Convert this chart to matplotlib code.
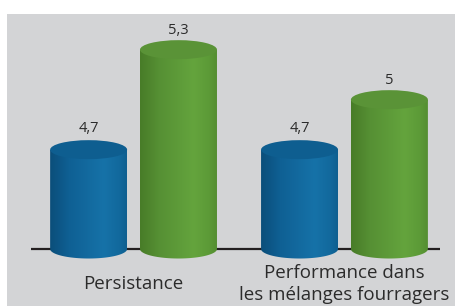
import numpy as np
import matplotlib.pyplot as plt
from matplotlib.patches import Ellipse, PathPatch
from matplotlib.path import Path
from matplotlib.colors import LinearSegmentedColormap

plt.rcParams['font.family'] = ['Open Sans', 'DejaVu Sans']

# données
categories = ['Persistance', 'Performance dans\nles mélanges fourragers']
serie_bleue = [4.7, 4.7]
serie_verte = [5.3, 5.0]
etiq_bleue = ['4,7', '4,7']
etiq_verte = ['5,3', '5']

base = 4.104   # valeur de la ligne de base
eh = 0.057     # demi-hauteur des ellipses (unités de données)
w = 0.365      # largeur d'un cylindre
dx = 0.213     # décalage dans le groupe

bleu = LinearSegmentedColormap.from_list('bleu', [
    (0.0, '#0b4e7a'), (0.25, '#0f6094'), (0.7, '#1672a8'), (0.9, '#12699d'), (1.0, '#0f5f90')])
vert = LinearSegmentedColormap.from_list('vert', [
    (0.0, '#487c28'), (0.25, '#569034'), (0.7, '#64a43d'), (0.9, '#5c9a37'), (1.0, '#548e31')])


def cylindre(ax, xc, val, cmap, couleur_haut):
    x0, x1 = xc - w / 2, xc + w / 2
    t = np.linspace(0, np.pi, 80)
    arc = np.column_stack([xc + w / 2 * np.cos(t), base - eh * np.sin(t)])
    verts = np.vstack([[x0, val], [x1, val], arc, [x0, val]])
    grad = np.linspace(0, 1, 256).reshape(1, -1)
    im = ax.imshow(grad, cmap=cmap, extent=(x0, x1, base - eh, val),
                   aspect='auto', zorder=3, interpolation='bilinear')
    clip = PathPatch(Path(verts), facecolor='none', edgecolor='none')
    ax.add_patch(clip)
    im.set_clip_path(clip)
    ax.add_patch(Ellipse((xc, val), w, 2 * eh, facecolor=couleur_haut,
                         edgecolor='none', zorder=4))


fig = plt.figure(figsize=(4.55, 3.06), dpi=100)
ax = fig.add_axes([7 / 455, 0, 448 / 455, 292 / 306])
ax.set_facecolor('#d3d4d6')

x = np.arange(len(categories))
ax.hlines(base, -0.486, 1.453, color='#231f20', linewidth=1.6, zorder=2)

for i in x:
    cylindre(ax, i - dx, serie_bleue[i], bleu, '#0e5e90')
    cylindre(ax, i + dx, serie_verte[i], vert, '#5a9337')
    ax.text(i - dx, serie_bleue[i] + eh + 0.05, etiq_bleue[i], ha='center',
            va='baseline', fontsize=10.5, color='#2b2b2b')
    ax.text(i + dx, serie_verte[i] + eh + 0.04, etiq_verte[i], ha='center',
            va='baseline', fontsize=10.5, color='#2b2b2b')
    ax.text(i, 0.075, categories[i], transform=ax.get_xaxis_transform(),
            ha='center', va='center', fontsize=13.5, color='#2b2b2b',
            linespacing=1.3)

ax.set_xlim(-0.6, 1.524)
ax.set_ylim(3.762, 5.514)
for s in ax.spines.values():
    s.set_visible(False)
ax.set_xticks([])
ax.set_yticks([])

fig.savefig('out.png', dpi=100)
